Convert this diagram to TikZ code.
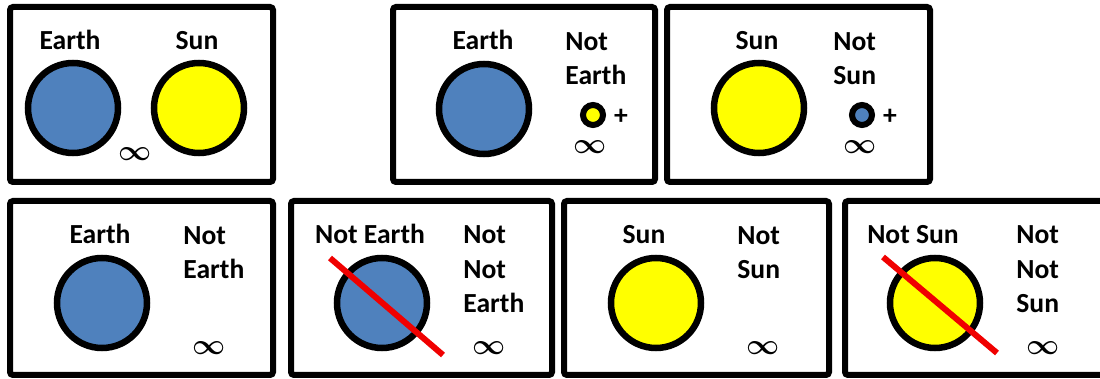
\documentclass[tikz,border=0pt]{standalone}
\usepackage{fontspec}
\setmainfont{Carlito}
\usepackage{xcolor}
\usetikzlibrary{positioning}
\definecolor{earthblue}{RGB}{79,129,189}
\definecolor{sunyellow}{RGB}{255,255,0}
\definecolor{crossred}{RGB}{240,0,0}

\tikzset{
  panel/.style={draw=black,line width=3pt,rounded corners=1.5pt},
  word/.style={font=\fontsize{13.8}{17.3}\selectfont\bfseries,inner sep=0pt,anchor=base},
  lines/.style={word,align=left,anchor=base west},
  planet/.style={circle,draw=black,line width=3.25pt,minimum size=45pt,inner sep=0pt},
  moon/.style={circle,draw=black,line width=3pt,minimum size=10pt,inner sep=0pt},
  inf/.style={inner sep=0pt,font=\fontsize{15}{15}\selectfont\boldmath},
  cross/.style={draw=crossred,line width=3pt}
}

\begin{document}
\begin{tikzpicture}[x=0.5pt,y=-0.5pt]
        \useasboundingbox (0,0) rectangle (1100,379);
        \clip (0,0) rectangle (1100,379);
        % top row
        \draw[panel] (10,7) rectangle (273,182);
        \draw[panel] (393,7) rectangle (655,182);
        \draw[panel] (667,7) rectangle (930,182);
        \node[word] (earthA) at (70,50) {Earth};
        \node[word] (sunA) at (197,50) {Sun};
        \node[planet,fill=earthblue] (discEA) at (73,108) {};
        \node[planet,fill=sunyellow] (discSA) at (199,108) {};
        \node[inf] (infA) at (135,154) {$\infty$};
        \node[word] (earthB) at (483,50) {Earth};
        \node[lines] (notEB) at (565,85) {Not\\Earth};
        \node[planet,fill=earthblue] (discEB) at (484,109) {};
        \node[moon,fill=sunyellow] (moonB) at (593,115) {};
        \node[word,anchor=center] (plusB) at (621,117) {+};
        \node[inf] (infB) at (590,147) {$\infty$};
        \node[word] (sunC) at (757,50) {Sun};
        \node[lines] (notSC) at (833,85) {Not\\Sun};
        \node[planet,fill=sunyellow] (discSC) at (759,108) {};
        \node[moon,fill=earthblue] (moonC) at (862,115) {};
        \node[word,anchor=center] (plusC) at (890,117) {+};
        \node[inf] (infC) at (860,147) {$\infty$};
        % bottom row
        \draw[panel] (10,201) rectangle (273,375);
        \draw[panel] (291,201) rectangle (552,375);
        \draw[panel] (564,201) rectangle (829,375);
        \draw[panel] (845,201) rectangle (1110,375);
        \node[word] (earthD) at (100,244) {Earth};
        \node[lines] (notED) at (183,279) {Not\\Earth};
        \node[planet,fill=earthblue] (discED) at (102,303) {};
        \node[inf] (infD) at (209,348) {$\infty$};
        \node[word] (notEE) at (370,244) {Not Earth};
        \node[lines] (notnotEE) at (463,313) {Not\\Not\\Earth};
        \node[planet,fill=earthblue] (discEE) at (382,303) {};
        \draw[cross] (330,258) -- (443,355);
        \node[inf] (infE) at (489,348) {$\infty$};
        \node[word] (sunF) at (644,244) {Sun};
        \node[lines] (notSF) at (737,279) {Not\\Sun};
        \node[planet,fill=sunyellow] (discSF) at (656,303) {};
        \node[inf] (infF) at (763,348) {$\infty$};
        \node[word] (notSG) at (913,244) {Not Sun};
        \node[lines] (notnotSG) at (1016,313) {Not\\Not\\Sun};
        \node[planet,fill=sunyellow] (discSG) at (935,303) {};
        \draw[cross] (883,257) -- (997,353);
        \node[inf] (infG) at (1043,348) {$\infty$};
\end{tikzpicture}
\end{document}
